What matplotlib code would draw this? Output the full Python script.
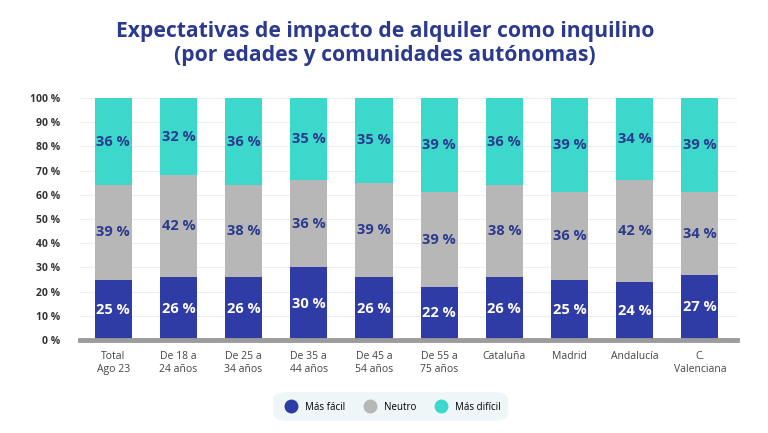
import numpy as np
import matplotlib.pyplot as plt
from matplotlib.patches import FancyBboxPatch
from matplotlib.lines import Line2D

categories = ['Total\nAgo 23', 'De 18 a\n24 años', 'De 25 a\n34 años', 'De 35 a\n44 años',
              'De 45 a\n54 años', 'De 55 a\n75 años', 'Cataluña', 'Madrid', 'Andalucía',
              'C.\nValenciana']
mas_facil = [25, 26, 26, 30, 26, 22, 26, 25, 24, 27]
neutro = [39, 42, 38, 36, 39, 39, 38, 36, 42, 34]
mas_dificil = [36, 32, 36, 35, 35, 39, 36, 39, 34, 39]
series_names = ['Más fácil', 'Neutro', 'Más difícil']
yticks = list(range(0, 101, 10))

c_dark = '#2f3ca6'
c_gray = '#b7b7b7'
c_teal = '#3dd8cc'
c_text = '#2b3a8e'

plt.rcParams['font.family'] = ['Open Sans', 'DejaVu Sans']

W, H = 768, 433
fig = plt.figure(figsize=(W / 100, H / 100), dpi=100)
fig.patch.set_facecolor('white')

fig.text(385 / W, 1 - 31 / H, 'Expectativas de impacto de alquiler como inquilino',
         ha='center', va='center', fontsize=15.2, fontweight='bold', color=c_text)
fig.text(385 / W, 1 - 56 / H, '(por edades y comunidades autónomas)',
         ha='center', va='center', fontsize=15.2, fontweight='bold', color=c_text)

ax = fig.add_axes([80 / W, (H - 340) / H, (737 - 80) / W, (340 - 98) / H])
x = np.arange(len(categories))
bw = 0.57
b1 = np.array(mas_facil)
b2 = b1 + np.array(neutro)
ax.bar(x, mas_facil, bw, color=c_dark, zorder=2)
ax.bar(x, neutro, bw, bottom=b1, color=c_gray, zorder=2)
ax.bar(x, mas_dificil, bw, bottom=b2, color=c_teal, zorder=2)

for i in x:
    top = min(b2[i] + mas_dificil[i], 100)
    ax.text(i, b1[i] / 2, f'{mas_facil[i]} %', ha='center', va='center',
            fontsize=10.5, fontweight='bold', color='white', zorder=3)
    ax.text(i, (b1[i] + b2[i]) / 2, f'{neutro[i]} %', ha='center', va='center',
            fontsize=10.5, fontweight='bold', color=c_text, zorder=3)
    ax.text(i, (b2[i] + top) / 2, f'{mas_dificil[i]} %', ha='center', va='center',
            fontsize=10.5, fontweight='bold', color=c_text, zorder=3)

ax.set_xlim(-0.51, 9.57)
ax.set_ylim(0, 100)
ax.set_yticks(yticks)
ax.set_yticklabels([f'{t} %' for t in yticks], fontsize=7.5, fontweight='bold', color='#333333')
ax.set_xticks(x)
ax.set_xticklabels(categories, fontsize=7.5, color='#444444', linespacing=1.2)
ax.tick_params(axis='both', length=0)
ax.tick_params(axis='y', pad=14)
ax.tick_params(axis='x', pad=8)
ax.grid(axis='y', color='#eeeeee', linewidth=0.8, zorder=0)
for s in ax.spines.values():
    s.set_visible(False)
ax.axhline(0, color='#9c9c9c', linewidth=3.5, zorder=4, clip_on=False)

# legend box
box = FancyBboxPatch((273 / W, (H - 421) / H), 235 / W, 29 / H,
                     boxstyle='round,pad=0,rounding_size=0.02', transform=fig.transFigure,
                     facecolor='#eef6f8', edgecolor='none')
fig.patches.append(box)
handles = [Line2D([], [], marker='o', linestyle='none', markersize=9, color=c)
           for c in (c_dark, c_gray, c_teal)]
fig.legend(handles, series_names, loc='center', bbox_to_anchor=(391 / W, 1 - 407 / H),
           ncol=3, frameon=False, fontsize=7, handletextpad=0.4, columnspacing=1.6)

fig.savefig('out.png', dpi=100)
